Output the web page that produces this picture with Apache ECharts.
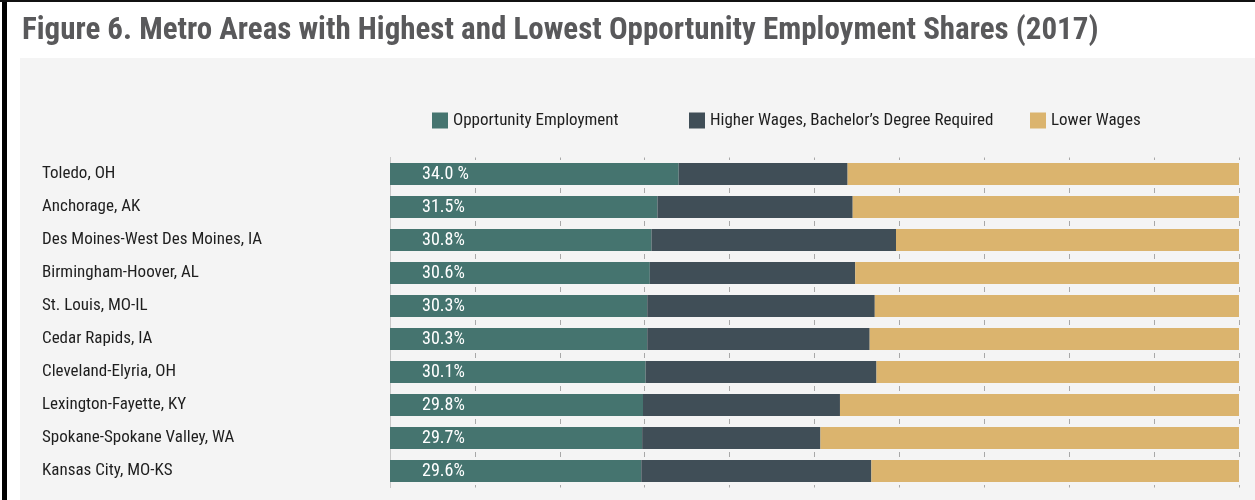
<!DOCTYPE html>
<html>
<head>
<meta charset="utf-8">
<script src="https://cdn.jsdelivr.net/npm/echarts@6/dist/echarts.min.js"></script>
<style>
  body { margin: 0; background: #fff; }
  #wrap { position: relative; width: 1255px; height: 500px; overflow: hidden; background: #fff; }
  #panel { position: absolute; left: 20px; top: 58px; right: 0; bottom: 0; background: #f4f4f4; }
  #edgeLeft { position: absolute; left: 2px; top: 0; width: 5px; height: 500px; background: #000; }
  #edgeTop { position: absolute; left: 0; top: 0; width: 1255px; height: 2px; background: #111; }
  #main { position: absolute; left: 0; top: 0; width: 1255px; height: 500px; }
</style>
</head>
<body>
<div id="wrap">
  <div id="panel"></div>
  <div id="edgeLeft"></div>
  <div id="edgeTop"></div>
  <div id="main"></div>
</div>
<script>
var metros = ['Toledo, OH', 'Anchorage, AK', 'Des Moines-West Des Moines, IA', 'Birmingham-Hoover, AL',
  'St. Louis, MO-IL', 'Cedar Rapids, IA', 'Cleveland-Elyria, OH', 'Lexington-Fayette, KY',
  'Spokane-Spokane Valley, WA', 'Kansas City, MO-KS'];
var opportunity = [34.0, 31.5, 30.8, 30.6, 30.3, 30.3, 30.1, 29.8, 29.7, 29.6];
var higherWages = [19.9, 23.0, 28.8, 24.2, 26.8, 26.2, 27.2, 23.2, 21.0, 27.1];
var lowerWages = [46.1, 45.5, 40.4, 45.2, 42.9, 43.5, 42.7, 47.0, 49.3, 43.3];
var oppLabels = ['34.0 %', '31.5%', '30.8%', '30.6%', '30.3%', '30.3%', '30.1%', '29.8%', '29.7%', '29.6%'];
var seriesNames = ['Opportunity Employment', 'Higher Wages, Bachelor\u2019s Degree Required', 'Lower Wages'];

var narrow = "'Roboto Condensed', 'Liberation Sans Narrow', Roboto, sans-serif";
var colors = ['#45746f', '#404e57', '#dbb46e'];

var chartDom = document.getElementById('main');
var myChart = echarts.init(chartDom);

// legend items are not evenly spaced in the original, so one legend per item
var legendLefts = [427, 684, 1025];

var option = {
  animation: false,
  backgroundColor: 'transparent',
  color: colors,
  title: {
    text: 'Figure 6. Metro Areas with Highest and Lowest Opportunity Employment Shares (2017)',
    left: 17,
    top: 11,
    textStyle: {
      fontFamily: narrow,
      fontSize: 31,
      fontWeight: 'bold',
      color: '#59595b'
    }
  },
  legend: seriesNames.map(function (name, i) {
    return {
      data: [name],
      left: legendLefts[i],
      top: 107,
      itemWidth: 16,
      itemHeight: 16,
      icon: 'rect',
      textStyle: { fontFamily: narrow, fontSize: 17, color: '#1e1e1e' }
    };
  }),
  grid: {
    left: 390,
    right: 16,
    top: 157.5,
    height: 330
  },
  xAxis: {
    type: 'value',
    min: 0,
    max: 100,
    interval: 10,
    axisLabel: { show: false },
    axisTick: { show: false },
    axisLine: { show: false },
    splitLine: {
      show: true,
      lineStyle: { color: '#a8a8a8', width: 1, type: [5, 28], dashOffset: 2.5 }
    }
  },
  yAxis: {
    type: 'category',
    inverse: true,
    data: metros,
    axisTick: { show: false },
    axisLine: { show: true, lineStyle: { color: '#c8c8c8', width: 1 } },
    axisLabel: {
      align: 'left',
      margin: 348,
      padding: [5, 0, 0, 0],
      fontFamily: narrow,
      fontSize: 17,
      color: '#1e1e1e'
    }
  },
  series: [
    {
      name: seriesNames[0],
      type: 'bar',
      stack: 'total',
      barCategoryGap: '33%',
      data: opportunity,
      label: {
        show: true,
        position: 'insideLeft',
        distance: 32,
        fontFamily: narrow,
        fontSize: 18,
        color: '#fff',
        formatter: function (p) { return oppLabels[p.dataIndex]; }
      }
    },
    {
      name: seriesNames[1],
      type: 'bar',
      stack: 'total',
      data: higherWages
    },
    {
      name: seriesNames[2],
      type: 'bar',
      stack: 'total',
      data: lowerWages
    }
  ]
};

myChart.setOption(option);
</script>
</body>
</html>
